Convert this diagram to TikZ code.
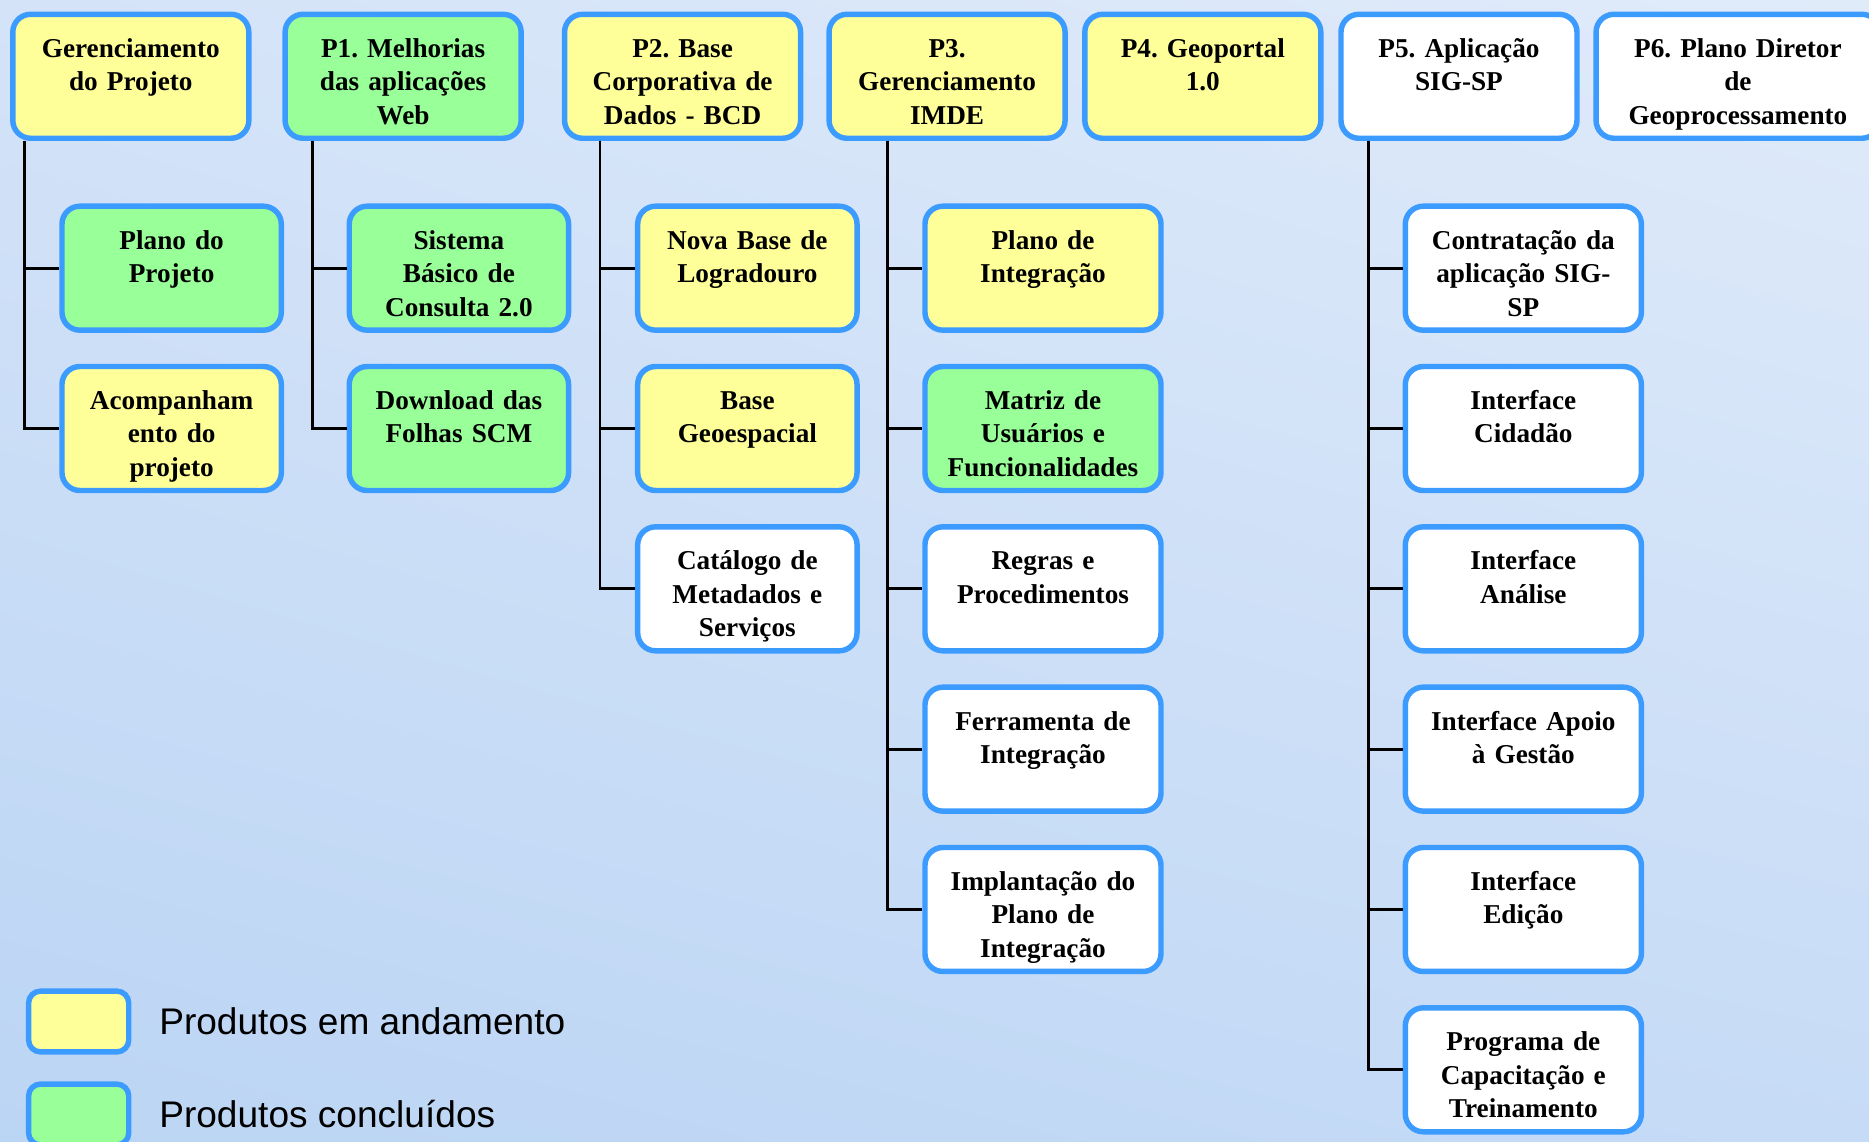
\documentclass[tikz,border=0pt]{standalone}
\usepackage{fontspec}
\setmainfont{Liberation Serif}
\newfontfamily\legendafont{Liberation Sans}
\usetikzlibrary{positioning,shadings}
\definecolor{azulborda}{RGB}{60,155,255}
\definecolor{amarelo}{RGB}{255,255,153}
\definecolor{verde}{RGB}{153,255,153}
\definecolor{fundoA}{RGB}{212,227,248}
\definecolor{fundoB}{RGB}{224,235,250}
\definecolor{fundoC}{RGB}{187,213,244}
\definecolor{fundoD}{RGB}{198,219,246}
\frenchspacing

\begin{document}
\begin{tikzpicture}[
  caixa/.style={draw=azulborda, line width=2.6pt, rounded corners=0.3cm, fill=white,
    text width=3.76cm, align=center, inner sep=0.1cm, text height=0.62cm, text depth=1.26cm,
    font=\bfseries\fontsize{13}{16}\selectfont},
  estreita/.style={caixa, text width=3.48cm},
  andamento/.style={fill=amarelo},
  concluido/.style={fill=verde},
  legenda/.style={draw=azulborda, line width=2.6pt, rounded corners=0.2cm, inner sep=0pt,
    minimum width=1.68cm, minimum height=1.02cm},
  rotulo/.style={inner sep=0pt, font=\legendafont\fontsize{17.7}{21}\selectfont},
  tronco/.style={line width=1.4pt}]
%   \draw[help lines] (0,0) grid (31,19);
\clip (0,0) rectangle (31.36,19.16);
\shade[upper left=fundoA, upper right=fundoB, lower left=fundoC, lower right=fundoD]
  (0,0) rectangle (31.36,19.16);

% projetos
\node[caixa, andamento] (gp) at (2.195,17.88) {Gerenciamento\\do Projeto};
\node[caixa, concluido] (p1) at (6.764,17.88) {P1. Melhorias\\das aplicações\\Web};
\node[caixa, andamento] (p2) at (11.453,17.88) {P2. Base\\Corporativa de\\Dados - BCD};
\node[caixa, andamento] (p3) at (15.891,17.88) {P3.\\Gerenciamento\\IMDE};
\node[caixa, andamento] (p4) at (20.182,17.88) {P4. Geoportal\\1.0};
\node[caixa] (p5) at (24.48,17.88) {P5. Aplicação\\SIG-SP};
\node[caixa, text width=4.56cm] (p6) at (29.16,17.88) {P6. Plano Diretor\\de\\Geoprocessamento};

% produtos
\node[estreita, concluido] (gp1) at (2.88,14.66) {Plano do\\Projeto};
\node[estreita, andamento] (gp2) at (2.88,11.97) {Acompanham\\ento do\\projeto};

\node[estreita, concluido] (p11) at (7.7,14.66) {Sistema\\Básico de\\Consulta 2.0};
\node[estreita, concluido] (p12) at (7.7,11.97) {Download das\\Folhas SCM};

\node[estreita, andamento] (p21) at (12.54,14.66) {Nova Base de\\Logradouro};
\node[estreita, andamento] (p22) at (12.54,11.97) {Base\\Geoespacial};
\node[estreita] (p23) at (12.54,9.28) {Catálogo de\\Metadados e\\Serviços};

\node[caixa, andamento] (p31) at (17.5,14.66) {Plano de\\Integração};
\node[caixa, concluido] (p32) at (17.5,11.97) {Matriz de\\Usuários e\\Funcionalidades};
\node[caixa] (p33) at (17.5,9.28) {Regras e\\Procedimentos};
\node[caixa] (p34) at (17.5,6.59) {Ferramenta de\\Integração};
\node[caixa] (p35) at (17.5,3.90) {Implantação do\\Plano de\\Integração};

\node[caixa] (p51) at (25.56,14.66) {Contratação da\\aplicação SIG-\\SP};
\node[caixa] (p52) at (25.56,11.97) {Interface\\Cidadão};
\node[caixa] (p53) at (25.56,9.28) {Interface\\Análise};
\node[caixa] (p54) at (25.56,6.59) {Interface Apoio\\à Gestão};
\node[caixa] (p55) at (25.56,3.90) {Interface\\Edição};
\node[caixa] (p56) at (25.56,1.21) {Programa de\\Capacitação e\\Treinamento};

% ligacoes
\path (gp.south west) ++(0.24,0) coordinate (t0);
\path (p1.south west) ++(0.50,0) coordinate (t1);
\path (p2.south west) ++(0.64,0) coordinate (t2);
\path (p3.south west) ++(1.03,0) coordinate (t3);
\path (p5.south west) ++(0.50,0) coordinate (t5);
\foreach \n in {gp1,gp2} \draw[tronco] (t0) |- (\n.west);
\foreach \n in {p11,p12} \draw[tronco] (t1) |- (\n.west);
\foreach \n in {p21,p22,p23} \draw[tronco] (t2) |- (\n.west);
\foreach \n in {p31,p32,p33,p34,p35} \draw[tronco] (t3) |- (\n.west);
\foreach \n in {p51,p52,p53,p54,p55,p56} \draw[tronco] (t5) |- (\n.west);

% legenda
\node[legenda, fill=amarelo] (leg1) at (1.32,2.02) {};
\node[legenda, fill=verde] (leg2) at (1.32,0.46) {};
\node[rotulo, right=0.46cm of leg1] (txt1) {Produtos em andamento};
\node[rotulo, right=0.46cm of leg2] (txt2) {Produtos concluídos};
\end{tikzpicture}
\end{document}
